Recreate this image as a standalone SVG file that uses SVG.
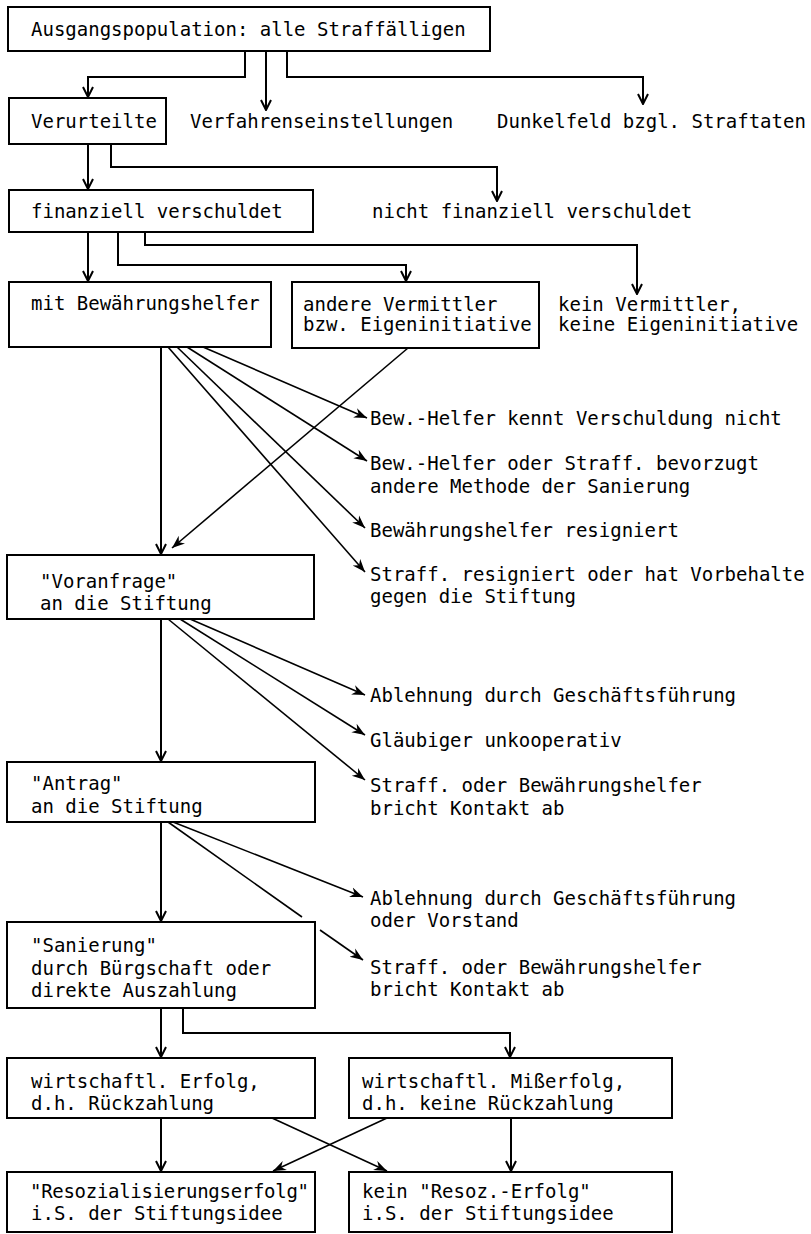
<svg xmlns="http://www.w3.org/2000/svg" width="811" height="1234" viewBox="0 0 811 1234">
<style>
  .box { fill: #fff; stroke: #000; stroke-width: 2; }
  .t { font-family: "DejaVu Sans Mono", "Liberation Mono", monospace; font-size: 19px; fill: #000; }
  .c { fill: none; stroke: #000; stroke-width: 2; }
  .d { fill: none; stroke: #000; stroke-width: 1.6; }
</style>
<defs>
  <marker id="open" viewBox="0 0 12 12" refX="11" refY="6" markerWidth="12" markerHeight="12" markerUnits="userSpaceOnUse" orient="auto">
    <path d="M1,1 L11,6 L1,11" fill="none" stroke="#000" stroke-width="2"/>
  </marker>
  <marker id="barb" viewBox="0 0 14 12" refX="13" refY="6" markerWidth="14" markerHeight="12" markerUnits="userSpaceOnUse" orient="auto">
    <path d="M0,1 L13,6 L0,11 L4,6 Z" fill="#000"/>
  </marker>
</defs>
<rect width="811" height="1234" fill="#fff"/>

<g id="connectors">
  <path class="c" d="M245,51 V77 H88 V97" marker-end="url(#open)"/>
  <path class="c" d="M266,51 V110" marker-end="url(#open)"/>
  <path class="c" d="M287,51 V77 H643 V104" marker-end="url(#open)"/>
  <path class="c" d="M88,144 V189" marker-end="url(#open)"/>
  <path class="c" d="M111,144 V167 H497 V201" marker-end="url(#open)"/>
  <path class="c" d="M88,232 V281" marker-end="url(#open)"/>
  <path class="c" d="M118,232 V265 H406 V281" marker-end="url(#open)"/>
  <path class="c" d="M145,232 V245 H637 V294" marker-end="url(#open)"/>
  <path class="c" d="M161,347 V554" marker-end="url(#open)"/>
  <path class="d" d="M203,347 L367,418" marker-end="url(#barb)"/>
  <path class="d" d="M187,347 L367,461" marker-end="url(#barb)"/>
  <path class="d" d="M177,347 L365,528" marker-end="url(#barb)"/>
  <path class="d" d="M168,347 L365,572" marker-end="url(#barb)"/>
  <path class="d" d="M408,348 L172,548" marker-end="url(#barb)"/>
  <path class="c" d="M161,619 V761" marker-end="url(#open)"/>
  <path class="d" d="M190,619 L365,695" marker-end="url(#barb)"/>
  <path class="d" d="M180,619 L365,735" marker-end="url(#barb)"/>
  <path class="d" d="M168,619 L365,780" marker-end="url(#barb)"/>
  <path class="c" d="M161,822 V921" marker-end="url(#open)"/>
  <path class="d" d="M173,822 L363,897" marker-end="url(#barb)"/>
  <path class="d" d="M168,822 L302,917"/>
  <path class="d" d="M320,930 L363,960" marker-end="url(#barb)"/>
  <path class="c" d="M161,1008 V1057" marker-end="url(#open)"/>
  <path class="c" d="M183,1008 V1033 H510 V1057" marker-end="url(#open)"/>
  <path class="c" d="M161,1118 V1171" marker-end="url(#open)"/>
  <path class="d" d="M272,1118 L387,1171" marker-end="url(#barb)"/>
  <path class="c" d="M511,1118 V1171" marker-end="url(#open)"/>
  <path class="d" d="M387,1118 L273,1171" marker-end="url(#barb)"/>
</g>

<g id="n-ausgang">
  <rect class="box" x="8" y="7" width="482" height="44"/>
  <text class="t" x="31" y="36">Ausgangspopulation: alle Straffälligen</text>
</g>
<g id="n-verurteilte">
  <rect class="box" x="9" y="98" width="157" height="46"/>
  <text class="t" x="31" y="128">Verurteilte</text>
</g>
<g id="n-verfahren">
  <text class="t" x="190" y="128">Verfahrenseinstellungen</text>
</g>
<g id="n-dunkelfeld">
  <text class="t" x="497" y="128">Dunkelfeld bzgl. Straftaten</text>
</g>
<g id="n-finanziell">
  <rect class="box" x="9" y="190" width="304" height="42"/>
  <text class="t" x="31" y="218">finanziell verschuldet</text>
</g>
<g id="n-nicht-finanziell">
  <text class="t" x="372" y="218">nicht finanziell verschuldet</text>
</g>
<g id="n-bewhelfer">
  <rect class="box" x="9" y="282" width="262" height="65"/>
  <text class="t" x="31" y="310">mit Bewährungshelfer</text>
</g>
<g id="n-andere">
  <rect class="box" x="292" y="282" width="247" height="66"/>
  <text class="t" x="303" y="311">andere Vermittler</text>
  <text class="t" x="303" y="331">bzw. Eigeninitiative</text>
</g>
<g id="n-kein">
  <text class="t" x="558" y="311">kein Vermittler,</text>
  <text class="t" x="558" y="331">keine Eigeninitiative</text>
</g>
<g id="n-kennt">
  <text class="t" x="370" y="425">Bew.-Helfer kennt Verschuldung nicht</text>
</g>
<g id="n-bevorzugt">
  <text class="t" x="370" y="470">Bew.-Helfer oder Straff. bevorzugt</text>
  <text class="t" x="370" y="493">andere Methode der Sanierung</text>
</g>
<g id="n-resigniert">
  <text class="t" x="370" y="537">Bewährungshelfer resigniert</text>
</g>
<g id="n-vorbehalte">
  <text class="t" x="370" y="581">Straff. resigniert oder hat Vorbehalte</text>
  <text class="t" x="370" y="603">gegen die Stiftung</text>
</g>
<g id="n-voranfrage">
  <rect class="box" x="7" y="555" width="307" height="64"/>
  <text class="t" x="40" y="588">"Voranfrage"</text>
  <text class="t" x="40" y="610">an die Stiftung</text>
</g>
<g id="n-ablehnung1">
  <text class="t" x="370" y="702">Ablehnung durch Geschäftsführung</text>
</g>
<g id="n-glaeubiger">
  <text class="t" x="370" y="747">Gläubiger unkooperativ</text>
</g>
<g id="n-kontakt1">
  <text class="t" x="370" y="792">Straff. oder Bewährungshelfer</text>
  <text class="t" x="370" y="815">bricht Kontakt ab</text>
</g>
<g id="n-antrag">
  <rect class="box" x="7" y="762" width="308" height="60"/>
  <text class="t" x="31" y="790">"Antrag"</text>
  <text class="t" x="31" y="813">an die Stiftung</text>
</g>
<g id="n-ablehnung2">
  <text class="t" x="370" y="905">Ablehnung durch Geschäftsführung</text>
  <text class="t" x="370" y="927">oder Vorstand</text>
</g>
<g id="n-kontakt2">
  <text class="t" x="370" y="974">Straff. oder Bewährungshelfer</text>
  <text class="t" x="370" y="996">bricht Kontakt ab</text>
</g>
<g id="n-sanierung">
  <rect class="box" x="7" y="922" width="308" height="86"/>
  <text class="t" x="31" y="952">"Sanierung"</text>
  <text class="t" x="31" y="975">durch Bürgschaft oder</text>
  <text class="t" x="31" y="997">direkte Auszahlung</text>
</g>
<g id="n-erfolg">
  <rect class="box" x="7" y="1058" width="308" height="60"/>
  <text class="t" x="31" y="1088">wirtschaftl. Erfolg,</text>
  <text class="t" x="31" y="1110">d.h. Rückzahlung</text>
</g>
<g id="n-misserfolg">
  <rect class="box" x="349" y="1058" width="323" height="60"/>
  <text class="t" x="362" y="1088">wirtschaftl. Mißerfolg,</text>
  <text class="t" x="362" y="1110">d.h. keine Rückzahlung</text>
</g>
<g id="n-reso">
  <rect class="box" x="7" y="1172" width="308" height="60"/>
  <text class="t" x="30" y="1198" textLength="279" lengthAdjust="spacing">"Resozialisierungserfolg"</text>
  <text class="t" x="31" y="1220">i.S. der Stiftungsidee</text>
</g>
<g id="n-keinreso">
  <rect class="box" x="349" y="1172" width="323" height="60"/>
  <text class="t" x="362" y="1198">kein "Resoz.-Erfolg"</text>
  <text class="t" x="362" y="1220">i.S. der Stiftungsidee</text>
</g>
</svg>
